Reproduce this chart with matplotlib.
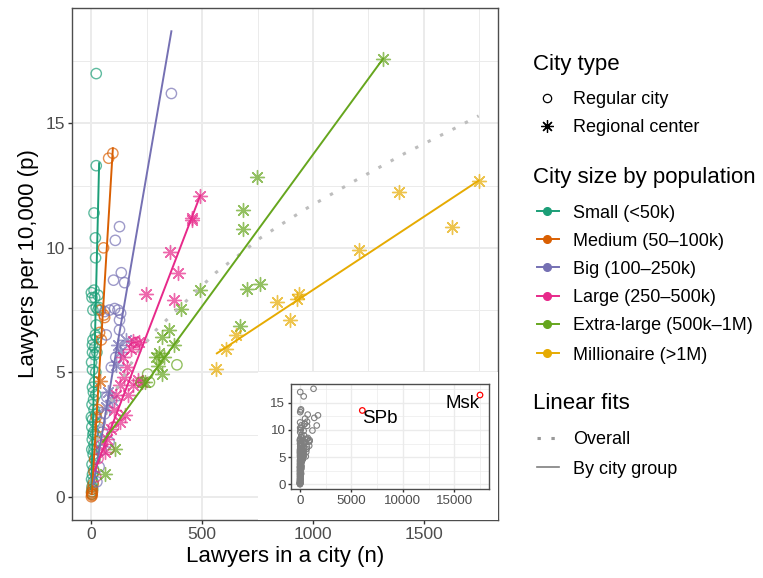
import numpy as np
import matplotlib
matplotlib.use("Agg")
import matplotlib.pyplot as plt
from matplotlib.patches import Rectangle
from matplotlib.ticker import MultipleLocator

plt.rcParams["font.family"] = ["Liberation Sans", "DejaVu Sans"]

GROUPS = ["Small (<50k)", "Medium (50–100k)", "Big (100–250k)",
          "Large (250–500k)", "Extra-large (500k–1M)", "Millionaire (>1M)"]
COLORS = ["#1B9E77", "#D95F02", "#7570B3", "#E7298A", "#66A61E", "#E6AB02"]

# lawyers (n) and lawyers per 10,000 (p); REG = regular city, RC = regional center
SMALL_REG_N = [22, 22, 12, 18, 19, 12, 3, 30, 15, 0, 22, 7, 30, 22, 18, 7, 25, 5, 15, 5,
               15, 25, 5, 20, 5, 15, 20, 10, 3, 12, 20, 5, 15, 2, 10, 18, 4, 12, 2, 8,
               15, 3, 10, 5, 1, 8, 3, 1, 6, 2, 12, 7, 0, 9, 1, 35]
SMALL_REG_P = [17.0, 13.3, 11.4, 10.4, 9.6, 8.3, 8.0, 8.1, 8.0, 8.2, 7.6, 7.5, 7.5, 6.9, 6.5, 6.3, 6.4, 6.1, 6.0, 5.8,
               5.7, 5.8, 5.1, 5.0, 4.4, 4.6, 4.1, 3.9, 3.7, 3.5, 3.3, 3.1, 3.0, 2.8, 2.6, 2.5, 2.3, 2.1, 1.9, 1.7,
               1.5, 1.3, 1.1, 0.9, 0.7, 0.6, 0.4, 0.2, 0.3, 0.1, 1.9, 2.5, 3.2, 4.2, 5.4, 7.6]
SMALL_RC_N = []
SMALL_RC_P = []

MEDIUM_REG_N = [97, 78, 55, 42, 57, 60, 37, 45, 30, 22, 35, 25, 15, 5, 2, 3, 8, 12, 0, 1, 4]
MEDIUM_REG_P = [13.8, 13.6, 10.0, 7.5, 7.3, 7.2, 6.6, 6.3, 3.5, 3.2, 2.8, 2.2, 1.5, 0.2, 0.1, 0.3, 0.5, 1.0, 0.0, 0.15, 0.05]
MEDIUM_RC_N = [37]
MEDIUM_RC_P = [4.64]

BIG_REG_N = [361, 127, 108, 135, 100, 150, 82, 105, 132, 60, 120, 127, 67, 127, 60, 45, 70, 50, 35, 80, 40, 25, 90, 110]
BIG_REG_P = [16.2, 10.85, 10.3, 9.0, 8.7, 8.6, 7.5, 7.56, 7.37, 7.44, 7.5, 7.1, 6.5, 6.7, 3.33, 1.87, 4.0, 2.6, 1.2, 2.2, 3.0, 0.6, 5.2, 5.6]
BIG_RC_N = [157, 120, 112, 75, 67, 95, 130]
BIG_RC_P = [6.3, 6.1, 5.3, 4.2, 3.6, 3.9, 5.8]

LARGE_REG_N = [202, 195, 45, 30, 100, 80, 20]
LARGE_REG_P = [6.2, 6.0, 2.08, 1.53, 2.8, 1.9, 0.8]
LARGE_RC_N = [491, 452, 456, 355, 392, 247, 374, 217, 187, 180, 142, 210, 127, 165, 112, 127, 90,
              150, 100, 70, 60, 145, 160, 190, 230]
LARGE_RC_P = [12.1, 11.2, 11.1, 9.84, 9.0, 8.16, 7.9, 6.2, 6.24, 5.93, 5.6, 4.67, 4.5, 4.1, 4.1, 3.0, 2.73,
              3.3, 3.5, 2.3, 1.8, 4.8, 5.2, 4.5, 4.6]

XLARGE_REG_N = [386, 254, 262, 224]
XLARGE_REG_P = [5.3, 4.93, 4.6, 4.6]
XLARGE_RC_N = [1316, 748, 684, 684, 760, 700, 491, 404, 669, 352, 319, 374, 307, 292, 329, 299, 317, 240, 105, 60]
XLARGE_RC_P = [17.6, 12.84, 11.53, 10.77, 8.53, 8.33, 8.29, 7.56, 6.87, 6.7, 6.4, 6.1, 5.76, 5.63, 5.6, 5.27, 4.93, 4.6, 1.93, 0.93]

MILL_REG_N = []
MILL_REG_P = []
MILL_RC_N = [1747, 1389, 1627, 1208, 838, 935, 928, 894, 651, 606, 561]
MILL_RC_P = [12.7, 12.23, 10.83, 9.9, 7.84, 8.13, 7.93, 7.09, 6.5, 5.93, 5.13]

# linear fits by city group: start and end points
FIT_N0 = [0, 2, 9, 15, 52, 566]
FIT_P0 = [0.3, 0.1, 0.5, 1.05, 2.2, 5.76]
FIT_N1 = [35, 97, 361, 491, 1316, 1747]
FIT_P1 = [13.4, 14.0, 18.7, 12.1, 17.6, 12.7]

# overall fit (dotted curve) read along its length
OVERALL_N = [0, 3, 15, 40, 112, 175, 247, 292, 467, 561, 664, 763, 867, 974, 1190, 1415, 1639, 1747]
OVERALL_P = [0.6, 1.1, 1.9, 2.8, 4.3, 5.3, 6.2, 6.7, 8.2, 9.0, 9.7, 10.4, 11.0, 11.6, 12.7, 13.8, 14.8, 15.3]

# capitals shown only in the inset
CAPITALS = ["SPb", "Msk"]
CAPITALS_N = [6060, 17500]
CAPITALS_P = [13.6, 16.45]

REG_N = [SMALL_REG_N, MEDIUM_REG_N, BIG_REG_N, LARGE_REG_N, XLARGE_REG_N, MILL_REG_N]
REG_P = [SMALL_REG_P, MEDIUM_REG_P, BIG_REG_P, LARGE_REG_P, XLARGE_REG_P, MILL_REG_P]
RC_N = [SMALL_RC_N, MEDIUM_RC_N, BIG_RC_N, LARGE_RC_N, XLARGE_RC_N, MILL_RC_N]
RC_P = [SMALL_RC_P, MEDIUM_RC_P, BIG_RC_P, LARGE_RC_P, XLARGE_RC_P, MILL_RC_P]

ASTER = (8, 2, 0)
GRID = "#EBEBEB"
BORDER = "#4D4D4D"
TICKTXT = "#4D4D4D"
DOTTED = (0, (1.1, 3.45))


def expand(lo, hi, f=0.05):
    r = hi - lo
    return lo - r * f, hi + r * f


def style_axes(ax, lw_major, lw_minor, tick_size, tick_len):
    ax.set_facecolor("white")
    ax.grid(which="major", color=GRID, lw=lw_major, zorder=0)
    ax.grid(which="minor", color=GRID, lw=lw_minor, zorder=0)
    ax.set_axisbelow(True)
    for s in ax.spines.values():
        s.set_color(BORDER)
        s.set_linewidth(1.0)
    ax.tick_params(which="major", length=tick_len, width=1.0, color="#333333",
                   labelsize=tick_size, labelcolor=TICKTXT, pad=2)
    ax.tick_params(which="minor", length=0)


fig = plt.figure(figsize=(7.63, 5.78), dpi=100)
ax = fig.add_axes([72 / 763, 1 - 520 / 578, 426 / 763, 512 / 578])

all_n = sum(REG_N + RC_N, [])
all_p = sum(REG_P + RC_P, [])

for i in range(len(GROUPS)):
    ax.scatter(REG_N[i], REG_P[i], s=55, facecolors="none", edgecolors=COLORS[i],
               linewidths=1.0, alpha=0.7, zorder=2)
    ax.scatter(RC_N[i], RC_P[i], s=100, marker=ASTER, color=COLORS[i],
               linewidths=1.0, alpha=0.7, zorder=2)

ax.plot(OVERALL_N, OVERALL_P, color="#BDBDBD", lw=2.2, linestyle=DOTTED,
        dash_capstyle="butt", zorder=3)

for i in range(len(GROUPS)):
    ax.plot([FIT_N0[i], FIT_N1[i]], [FIT_P0[i], FIT_P1[i]], color=COLORS[i], lw=1.4, zorder=4)

xlo, xhi = expand(0, max(all_n))
ylo, yhi = expand(0, max(FIT_P1))
ax.set_xlim(xlo, xhi)
ax.set_ylim(ylo, yhi)
ax.xaxis.set_major_locator(MultipleLocator(500))
ax.xaxis.set_minor_locator(MultipleLocator(250))
ax.yaxis.set_major_locator(MultipleLocator(5))
ax.yaxis.set_minor_locator(MultipleLocator(2.5))
style_axes(ax, 1.4, 0.7, 12.5, 3)
ax.set_xlabel("Lawyers in a city (n)", fontsize=16, labelpad=3)
ax.set_ylabel("Lawyers per 10,000 (p)", fontsize=16, labelpad=5)

# white background of the inset
ax.add_patch(Rectangle((750, ylo), xhi - 750, 5 - ylo, facecolor="white",
                       edgecolor="none", zorder=5))

# inset with the capitals
ins = fig.add_axes([291 / 763, 1 - 489 / 578, 198 / 763, 105 / 578], zorder=6)
ins.scatter(all_n, all_p, s=16, facecolors="none", edgecolors="#7F7F7F", linewidths=0.8, zorder=2)
ins.scatter(CAPITALS_N, CAPITALS_P, s=16, facecolors="none", edgecolors="red", linewidths=0.9, zorder=3)
ins.text(CAPITALS_N[0], CAPITALS_P[0], CAPITALS[0], ha="left", va="top", fontsize=13.5)
ins.text(CAPITALS_N[1], CAPITALS_P[1], CAPITALS[1], ha="right", va="top", fontsize=13.5)
ins.set_xlim(*expand(0, max(CAPITALS_N)))
ins.set_ylim(*expand(0, max(all_p)))
ins.xaxis.set_major_locator(MultipleLocator(5000))
ins.xaxis.set_minor_locator(MultipleLocator(2500))
ins.yaxis.set_major_locator(MultipleLocator(5))
ins.yaxis.set_minor_locator(MultipleLocator(2.5))
style_axes(ins, 1.0, 0.5, 9.6, 2)

# legend, drawn in pixel coordinates of the figure
lax = fig.add_axes([0, 0, 1, 1], zorder=-1)
lax.set_xlim(0, 763)
lax.set_ylim(578, 0)
lax.axis("off")

KEY_X, KEY_X0, KEY_X1, TXT_X, TITLE_X = 547, 537, 559, 573, 533
TITLE_FS, LABEL_FS = 16, 13

lax.text(TITLE_X, 70, "City type", fontsize=TITLE_FS, va="baseline")
lax.plot(KEY_X, 98, marker="o", mfc="none", mec="black", mew=0.9, ms=6)
lax.plot(KEY_X, 126, marker=ASTER, color="black", mew=0.9, ms=9)
for y, lab in zip([98, 126], ["Regular city", "Regional center"]):
    lax.text(TXT_X, y, lab, fontsize=LABEL_FS, va="center_baseline")

lax.text(TITLE_X, 183, "City size by population", fontsize=TITLE_FS, va="baseline")
size_y = [211, 239, 267, 296, 324, 353]
for y, c, lab in zip(size_y, COLORS, GROUPS):
    lax.plot([KEY_X0, KEY_X1], [y, y], color=c, lw=1.4)
    lax.plot(KEY_X, y, marker="o", color=c, ms=5.5)
    lax.text(TXT_X, y, lab, fontsize=LABEL_FS, va="center_baseline")

lax.text(TITLE_X, 409, "Linear fits", fontsize=TITLE_FS, va="baseline")
lax.plot([KEY_X0, KEY_X1], [438, 438], color="#999999", lw=2.2, linestyle=DOTTED,
         dash_capstyle="butt")
lax.plot([KEY_X0, KEY_X1], [467, 467], color="#7F7F7F", lw=1.2)
for y, lab in zip([438, 467], ["Overall", "By city group"]):
    lax.text(TXT_X, y, lab, fontsize=LABEL_FS, va="center_baseline")

fig.savefig("out.png", dpi=100)
